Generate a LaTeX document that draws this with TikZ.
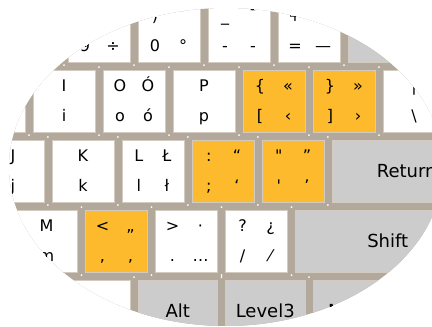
\documentclass[tikz,border=0pt]{standalone}
\usepackage{fontspec}
\setmainfont{DejaVu Sans}[Ligatures=TeXOff]
\usetikzlibrary{calc}
\definecolor{kbbg}{HTML}{B2A89B}
\definecolor{kborange}{HTML}{FDBA2C}
\definecolor{kbgray}{HTML}{CCCCCC}
\definecolor{kbedge}{HTML}{D3CBC0}
\tikzset{
  keybox/.style={draw=kbedge, line width=0.8pt, inner sep=0pt, outer sep=0pt,
    minimum height=62pt, anchor=north west},
  whitekey/.style={keybox, fill=white},
  orangekey/.style={keybox, fill=kborange},
  graykey/.style={keybox, fill=kbgray},
  lab/.style={inner sep=0pt, anchor=base, font=\fontsize{16}{16}\selectfont, text=black},
  biglab/.style={inner sep=0pt, anchor=center, font=\fontsize{18}{18}\selectfont, text=black}
}
% name, u, row, width (u), style
\newcommand\kbkey[5]{%
  \node[#5, minimum width={70*#4-8}] (#1) at ({-562+70*#2},{70*(#3-1)}) {};
  \fill[white] ($(#1.north west)+(-4,-3)$) circle (1pt);
  \fill[white] ($(#1.south west)+(-4,3)$) circle (1pt);
}
\newcommand\kbfour[5]{%
  \node[lab] (#1-tl) at ($(#1.north west)+(17,21)$) {#2};
  \node[lab] (#1-tr) at ($(#1.north west)+(45,21)$) {#3};
  \node[lab] (#1-bl) at ($(#1.north west)+(17,51)$) {#4};
  \node[lab] (#1-br) at ($(#1.north west)+(45,51)$) {#5};}
\newcommand\kbtwo[3]{%
  \node[lab] (#1-t) at ($(#1.north west)+(31,21)$) {#2};
  \node[lab] (#1-b) at ($(#1.north west)+(31,51)$) {#3};}
\begin{document}
\begin{tikzpicture}[x=1pt,y=-1pt]
\useasboundingbox (0,0) rectangle (432,327);
\clip (226,167) ellipse (217pt and 159pt);
\fill[kbbg] (0,0) rectangle (432,327);
% row 1
\kbkey{k8}{8}{1}{1}{whitekey}
\kbkey{k9}{9}{1}{1}{whitekey}
\kbkey{k0}{10}{1}{1}{whitekey}
\kbkey{kminus}{11}{1}{1}{whitekey}
\kbkey{kequal}{12}{1}{1}{whitekey}
\kbkey{kbksp}{13}{1}{2}{graykey}
\kbfour{k9}{}{}{9}{÷}
\kbfour{k0}{)}{ˇ}{0}{°}
\kbfour{kminus}{\_}{¯}{-}{-}
\kbfour{kequal}{+}{˛}{=}{—}
% row 2
\kbkey{ku}{7.5}{2}{1}{whitekey}
\kbkey{ki}{8.5}{2}{1}{whitekey}
\kbkey{ko}{9.5}{2}{1}{whitekey}
\kbkey{kp}{10.5}{2}{1}{whitekey}
\kbkey{klbr}{11.5}{2}{1}{orangekey}
\kbkey{krbr}{12.5}{2}{1}{orangekey}
\kbkey{kbsl}{13.5}{2}{1.5}{whitekey}
\kbtwo{ki}{I}{i}
\kbfour{ko}{O}{Ó}{o}{ó}
\kbtwo{kp}{P}{p}
\kbfour{klbr}{\{}{«}{[}{‹}
\kbfour{krbr}{\}}{»}{]}{›}
\kbtwo{kbsl}{|}{\textbackslash}
% row 3
\kbkey{kh}{6.77}{3}{1}{whitekey}
\kbkey{kj}{7.77}{3}{1}{whitekey}
\kbkey{kk}{8.77}{3}{1}{whitekey}
\kbkey{kl}{9.77}{3}{1}{whitekey}
\kbkey{ksemi}{10.77}{3}{1}{orangekey}
\kbkey{kquote}{11.77}{3}{1}{orangekey}
\kbkey{kret}{12.77}{3}{2.25}{graykey}
\kbtwo{kj}{J}{j}
\kbtwo{kk}{K}{k}
\kbfour{kl}{L}{Ł}{l}{ł}
\kbfour{ksemi}{:}{“}{;}{‘}
\kbfour{kquote}{"}{”}{'}{’}
\node[biglab] (kret-t) at (kret.center) {Return};
% row 4
\kbkey{kn}{7.25}{4}{1}{whitekey}
\kbkey{km}{8.25}{4}{1}{whitekey}
\kbkey{kcomma}{9.25}{4}{1}{orangekey}
\kbkey{kdot}{10.25}{4}{1}{whitekey}
\kbkey{kslash}{11.25}{4}{1}{whitekey}
\kbkey{kshift}{12.25}{4}{2.75}{graykey}
\kbtwo{km}{M}{m}
\kbfour{kcomma}{<}{„}{,}{‚}
\kbfour{kdot}{>}{·}{.}{…}
\kbfour{kslash}{?}{¿}{/}{⁄}
\node[biglab] (kshift-t) at (kshift.center) {Shift};
% row 5
\kbkey{kspace}{3.75}{5}{6.25}{whitekey}
\kbkey{kalt}{10}{5}{1.25}{graykey}
\kbkey{klvl}{11.25}{5}{1.25}{graykey}
\kbkey{kmenu}{12.5}{5}{1.25}{graykey}
\node[biglab] (kalt-t) at (kalt.center) {Alt};
\node[biglab] (klvl-t) at (klvl.center) {Level3};
\node[biglab] (kmenu-t) at (kmenu.center) {Menu};
\end{tikzpicture}
\end{document}
